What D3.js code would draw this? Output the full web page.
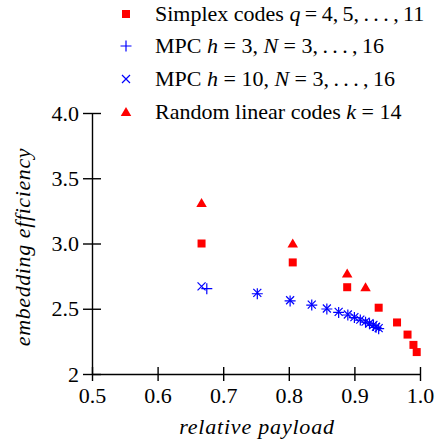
<!DOCTYPE html>
<html>
<head>
<meta charset="utf-8">
<script src="https://cdn.jsdelivr.net/npm/d3@7"></script>
<style>
  body { margin: 0; background: #fff; }
  text { font-family: "Liberation Serif", "DejaVu Serif", serif; }
</style>
</head>
<body>
<svg width="439" height="440"></svg>
<script>
// simplex codes q = 4..11
var simplexX = [0.667, 0.806, 0.889, 0.937, 0.965, 0.981, 0.990, 0.995];
var simplexY = [3.0, 2.855, 2.665, 2.508, 2.395, 2.302, 2.223, 2.168];
// MPC h = 3, N = 3..16
var mpc3X = [0.675, 0.752, 0.802, 0.835, 0.858, 0.876, 0.890, 0.900, 0.909, 0.917, 0.923, 0.929, 0.933, 0.937];
var mpc3Y = [2.654, 2.615, 2.56, 2.528, 2.498, 2.472, 2.452, 2.432, 2.413, 2.397, 2.385, 2.372, 2.358, 2.347];
// MPC h = 10, N = 3..16
var mpc10X = [0.667, 0.752, 0.802, 0.835, 0.858, 0.876, 0.890, 0.900, 0.909, 0.917, 0.923, 0.929, 0.933, 0.937];
var mpc10Y = [2.672, 2.622, 2.565, 2.532, 2.502, 2.476, 2.456, 2.436, 2.417, 2.401, 2.389, 2.376, 2.362, 2.351];
// random linear codes k = 14
var randX = [0.667, 0.806, 0.889, 0.917];
var randY = [3.31, 3.0, 2.77, 2.665];

var xTicks = [0.5, 0.6, 0.7, 0.8, 0.9, 1.0];
var xTickLabels = ['0.5', '0.6', '0.7', '0.8', '0.9', '1.0'];
var yTicks = [2, 2.5, 3, 3.5, 4];
var yTickLabels = ['2', '2.5', '3.0', '3.5', '4.0'];

var red = '#ff0000', blue = '#0000ff';

var svg = d3.select('svg');
var x = d3.scaleLinear().domain([0.5, 1]).range([92, 420]);
var y = d3.scaleLinear().domain([2, 4]).range([374, 113]);

// axes, ticks crossing the line
function crossTicks(g) {
  g.selectAll('.tick line').clone().attr('x2', function() { return -d3.select(this).attr('x2'); })
    .attr('y2', function() { return -d3.select(this).attr('y2'); });
}
var xAxis = svg.append('g')
  .attr('transform', 'translate(0,374)')
  .call(d3.axisBottom(x).tickValues(xTicks).tickFormat((d, i) => xTickLabels[i]).tickSize(7).tickSizeOuter(0).tickPadding(6));
crossTicks(xAxis);
var yAxis = svg.append('g')
  .attr('transform', 'translate(92,0)')
  .call(d3.axisLeft(y).tickValues(yTicks).tickFormat((d, i) => yTickLabels[i]).tickSize(9).tickSizeOuter(0).tickPadding(4));
crossTicks(yAxis);
svg.selectAll('.domain, .tick line').attr('stroke', '#000').attr('stroke-width', 1.4);
svg.selectAll('.tick text').style('font-size', '22px').attr('fill', '#000')
  .style('font-family', '"Liberation Serif", serif');

// axis labels
svg.append('text')
  .attr('transform', 'translate(257,434)')
  .style('text-anchor', 'middle').style('font-size', '22px').style('font-style', 'italic')
  .style('letter-spacing', '0.8px')
  .text('relative payload');
svg.append('text')
  .attr('transform', 'translate(30,247) rotate(-90)')
  .style('text-anchor', 'middle').style('font-size', '22px').style('font-style', 'italic')
  .style('letter-spacing', '0.6px')
  .text('embedding efficiency');

// marker drawers
function square(g, cx, cy) {
  g.append('rect').attr('x', cx - 4).attr('y', cy - 4).attr('width', 8).attr('height', 8).attr('fill', red);
}
function triangle(g, cx, cy) {
  g.append('path').attr('d', d3.symbol(d3.symbolTriangle, 48)()).attr('transform', 'translate(' + cx + ',' + (cy + 1) + ')').attr('fill', red);
}
function plus(g, cx, cy) {
  g.append('path').attr('d', 'M' + (cx - 5.5) + ',' + cy + 'H' + (cx + 5.5) + 'M' + cx + ',' + (cy - 5.5) + 'V' + (cy + 5.5))
    .attr('stroke', blue).attr('stroke-width', 1.2).attr('fill', 'none');
}
function cross(g, cx, cy) {
  var s = 4;
  g.append('path').attr('d', 'M' + (cx - s) + ',' + (cy - s) + 'L' + (cx + s) + ',' + (cy + s) + 'M' + (cx - s) + ',' + (cy + s) + 'L' + (cx + s) + ',' + (cy - s))
    .attr('stroke', blue).attr('stroke-width', 1.2).attr('fill', 'none');
}

var marks = svg.append('g');
simplexX.forEach((d, i) => square(marks, x(d), y(simplexY[i])));
randX.forEach((d, i) => triangle(marks, x(d), y(randY[i])));
mpc3X.forEach((d, i) => plus(marks, x(d), y(mpc3Y[i])));
mpc10X.forEach((d, i) => cross(marks, x(d), y(mpc10Y[i])));

// legend
var legendItems = [
  {draw: square, parts: [['Simplex codes ', 0], ['q', 1], ['\u2009=\u20094,\u20095,\u2009.\u2009.\u2009.\u2009,\u200911', 0]]},
  {draw: plus, parts: [['MPC ', 0], ['h', 1], [' = 3, ', 0], ['N', 1], [' = 3,\u2009.\u2009.\u2009.\u2009,\u200916', 0]]},
  {draw: cross, parts: [['MPC ', 0], ['h', 1], [' = 10, ', 0], ['N', 1], [' = 3,\u2009.\u2009.\u2009.\u2009,\u200916', 0]]},
  {draw: triangle, parts: [['Random linear codes ', 0], ['k', 1], [' = 14', 0]]}
];
var legendY = [14, 46, 79, 112];
legendItems.forEach(function(item, i) {
  item.draw(svg, 126, legendY[i]);
  var t = svg.append('text').attr('x', 155).attr('y', legendY[i] + 7).style('font-size', '22px').attr('xml:space', 'preserve');
  item.parts.forEach(function(p) {
    t.append('tspan').style('font-style', p[1] ? 'italic' : 'normal').text(p[0]);
  });
});
</script>
</body>
</html>
